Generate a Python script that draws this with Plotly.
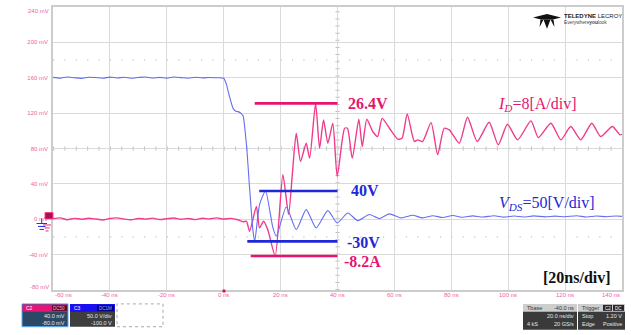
import plotly.graph_objects as go

# ---------------- data (time in ns, channel value in mV) ----------------
id_t = [-60, -57.5, -55, -52.5, -50, -47.5, -45, -42.5, -40, -37.5, -35, -32.5, -30, -27.5, -25,
        -22.5, -20, -17.5, -15, -12.5, -10, -7.5, -5, -2.5, 0, 2.5, 5, 6.8, 8.0,
        9.1, 11.5, 12.6, 14.0, 15.5, 18.1, 20.8, 22.8, 24.2, 25.5, 27.0, 29.0, 30.2, 32.3, 33.7,
        35.1, 36.6, 38.35, 39.9, 42.5, 43.5, 45.2, 47.5, 48.7, 50.3, 52.4, 54.1, 55.7, 58.25, 61.2,
        62.7, 64.5, 67.0, 68.2, 69.9, 72.9, 75.2, 77.5, 79.3, 82.8, 85.7, 89.1, 93.3, 96.5, 99.75,
        103.3, 108.0, 110.6, 115.0, 118.5, 122.0, 125.5, 129.4, 132.5, 136.6, 139.3, 140]
id_v = [0.5, 1.5, -0.5, 1.0, 0.0, 1.2, 0.3, -0.8, 0.8, 1.5, 0.2, -0.5, 0.9, 0.1, 1.3,
        -0.3, 0.6, 1.4, 0.0, 0.9, -0.4, 1.1, 0.4, 1.6, 0.2, 1.0, -0.6, -2.8, -2.3,
        -13.5, 14.6, -9.8, -2.3, -12, -41.5, 50.4, 5.6, 54.1, 97.2, 65.4, 86, 69.1, 131, 80.3,
        112.3, 86, 108.5, 48.5, 102.9, 102.9, 69.1, 113, 82.3, 113, 99.2, 93.5, 114.1, 102.9, 90.5,
        91.6, 119.1, 87.9, 89.8, 87.9, 109.3, 72.9, 102.9, 101.1, 86, 115.3, 87.9, 109.6, 84.2, 107.4,
        89.8, 111.2, 92.4, 108.5, 89.8, 104.8, 89.8, 108.5, 93.5, 104.8, 95.4, 96]

vds_t = [-60, -57.5, -55, -52.5, -50, -47.5, -45, -42.5, -40, -37.5, -35, -32.5, -30, -27.5, -25,
         -22.5, -20, -17.5, -15, -12.5, -10, -7.5, -5, -2.5, 0.0,
         0.9, 1.9, 3.3, 4.3, 5.0, 6.2, 6.8, 8.0, 9.1, 10.3, 10.9,
         12.6, 14.7, 17.3, 18.5, 22.0, 25.5, 29.0, 32.5, 36.6, 39.9, 43.6, 47.1, 51.2, 54.7, 58.2,
         62.4, 66.4, 69.9,
         73.5, 77, 80.5, 84, 87.5, 91, 95, 98.5, 102, 105.5, 109, 113, 116.5, 120, 124, 127.5,
         131, 134.5, 138, 140]
vds_v = [160.4, 159.6, 160.8, 160.0, 159.3, 160.6, 160.2, 159.5, 160.7, 159.8, 160.5, 159.4, 160.3,
         160.9, 159.7, 160.4, 159.6, 160.8, 160.1, 159.5, 160.6, 159.9, 160.3, 160.0, 159.5,
         153, 140.5, 125.4, 122.0, 121.7, 119.5, 117, 84.2, 35.3, -13.5, -25,
         16.6, 32, -9.8, -19.2, 13.9, -11.6, 10.9, -9.8, 9.8, -4.2, 7.1, -1.5, 5.3, 0.8, 6.1,
         1.5, 4.5, 1.5,
         4.0, 2.0, 4.2, 2.2, 3.8, 2.5, 4.0, 2.4, 3.6, 2.6, 3.8, 2.7, 3.5, 2.8, 3.9, 2.6,
         3.6, 2.9, 3.7, 3.3]

# measurement reference lines
ref_text = ["26.4V", "40V", "-30V", "-8.2A"]
ref_level = [131, 32, -25, -41.5]
ref_start = [10.9, 12.5, 8.3, 9.5]
ref_end = [40, 40, 40, 40]
ref_channel = ["id", "vds", "vds", "id"]

# axis ticks
x_ticks = [-60, -40, -20, 0, 20, 40, 60, 80, 100, 120, 140]
x_tick_text = ["-60 ns", "-40 ns", "-20 ns", "0 ns", "20 ns", "40 ns", "60 ns", "80 ns",
               "100 ns", "120 ns", "140 ns"]
y_ticks = [240, 200, 160, 120, 80, 40, 0, -40, -80]
y_tick_text = ["240 mV", "200 mV", "160 mV", "120 mV", "80 mV", "40 mV", "0 mV", "-40 mV", "-80 mV"]

# ---------------- styling / layout ----------------
W, H = 631, 335
ML, MR, MT, MB = 53, 9, 5, 45
PW, PH = W - ML - MR, H - MT - MB

PINK = "rgb(240,60,140)"
BLUE = "rgb(100,110,240)"
PINK_REF = "rgb(230,20,110)"
BLUE_REF = "rgb(30,40,215)"
TICK_PINK = "rgb(240,95,160)"
GRID = "#dadada"
SERIF = "Liberation Serif, Times New Roman, serif"
SANS = "Liberation Sans, Arial, sans-serif"


def px(x):
    return (x - ML) / PW


def py(y):
    return (H - MB - y) / PH


shapes = []
annotations = []


def rect(x0, y0, x1, y1, fill, line=None, lw=0, dash="solid"):
    shapes.append(dict(type="rect", xref="paper", yref="paper", x0=px(x0), x1=px(x1),
                       y0=py(y1), y1=py(y0), fillcolor=fill, layer="above",
                       line=dict(color=line or fill, width=lw, dash=dash)))


def ptext(x, y, text, size=6, color="#ffffff", anchor="left", family=SANS):
    annotations.append(dict(xref="paper", yref="paper", x=px(x), y=py(y), text=text,
                            showarrow=False, xanchor=anchor, yanchor="middle",
                            font=dict(size=size, color=color, family=family)))


fig = go.Figure()

# waveforms
fig.add_trace(go.Scatter(x=id_t, y=id_v, mode="lines",
                         line=dict(color=PINK, width=1.4, shape="spline", smoothing=0.6),
                         hoverinfo="skip"))
fig.add_trace(go.Scatter(x=vds_t, y=vds_v, mode="lines",
                         line=dict(color=BLUE, width=1.1, shape="spline", smoothing=0.6),
                         hoverinfo="skip"))

# reference lines + their labels
label_dx = [3, 6, 2, -1]
label_dy = [0, 0, -1, -6]
for i in range(len(ref_level)):
    col = PINK_REF if ref_channel[i] == "id" else BLUE_REF
    fig.add_trace(go.Scatter(x=[ref_start[i], ref_end[i]], y=[ref_level[i], ref_level[i]],
                             mode="lines", line=dict(color=col, width=2.6), hoverinfo="skip"))
    annotations.append(dict(x=ref_end[i], y=ref_level[i], xref="x", yref="y",
                            text="<b>%s</b>" % ref_text[i], showarrow=False,
                            xanchor="left", yanchor="middle", xshift=5 + label_dx[i],
                            yshift=label_dy[i],
                            font=dict(family=SERIF, size=16, color=col)))

# channel scale texts
ptext(496, 103, "<i>I</i><sub><i>D</i></sub>=8[A/div]", 16, PINK_REF, family=SERIF)
ptext(497, 203, "<i>V</i><sub><i>DS</i></sub>=50[V/div]", 16, BLUE_REF, family=SERIF)
ptext(613, 277, "<b>[20ns/div]</b>", 16, "#111111", anchor="right", family=SERIF)

# graticule decorations: center-line ticks and dotted rows
shapes.append(dict(type="line", xref="x", yref="y", x0=40, x1=40, y0=-80, y1=240,
                   layer="below", line=dict(color="#b8b8b8", width=4, dash="1px,6.12px")))
shapes.append(dict(type="line", xref="x", yref="y", x0=-60, x1=140, y0=80, y1=80,
                   layer="below", line=dict(color="#b8b8b8", width=4, dash="1px,10.38px")))
for lvl in (180, -20):
    shapes.append(dict(type="line", xref="x", yref="y", x0=-60, x1=140, y0=lvl, y1=lvl,
                       layer="below", line=dict(color="#c4c4c4", width=1.2, dash="1.2px,10.18px")))

# x tick labels (first left-aligned, last right-aligned inside the graticule)
for v, t in zip(x_ticks, x_tick_text):
    anchor = "left" if v == x_ticks[0] else ("right" if v == x_ticks[-1] else "center")
    annotations.append(dict(x=v, y=0, xref="x", yref="paper", yshift=-5, text=t,
                            showarrow=False, xanchor=anchor, yanchor="middle",
                            font=dict(size=6, color=TICK_PINK, family=SANS)))

# offset markers at the left
rect(36.5, 222.5, 47, 223.5, "rgb(40,40,230)")
rect(38, 225.5, 45.5, 226.5, "rgb(40,40,230)")
rect(39.5, 228.5, 44, 229.5, "rgb(40,40,230)")
rect(41.2, 218, 42.2, 223, "rgb(40,40,230)")
rect(43, 224, 51, 225, "rgb(240,40,130)")
rect(44.5, 227, 49.5, 228, "rgb(240,40,130)")
rect(45.5, 230, 48.5, 231, "rgb(240,40,130)")
rect(45, 212, 53, 218.5, "rgb(170,15,80)", "rgb(255,60,140)", 1)
# trigger marker
shapes.append(dict(type="circle", xref="paper", yref="paper", x0=px(222.3), x1=px(225.7),
                   y0=py(292.7), y1=py(289.3), fillcolor="rgb(220,20,100)", layer="above",
                   line=dict(width=0)))

# channel descriptor boxes (bottom left)
rect(22, 304, 68, 327, "rgb(44,72,100)", "rgb(90,170,255)", 1)
rect(22.5, 304.5, 67.5, 312, "rgb(230,20,120)")
rect(52, 305.5, 67, 311, "rgb(90,10,40)")
ptext(24, 308.3, "C2", 5)
ptext(66.5, 308.3, "DC50", 4.5, "#ffb0d0", anchor="right")
ptext(66.5, 316.5, "40.0 mV", 5.5, "#e8e8e8", anchor="right")
ptext(66.5, 323, "-80.0 mV", 5.5, "#e8e8e8", anchor="right")

rect(70, 304, 115, 327, "rgb(62,62,62)")
rect(70, 304, 115, 312, "rgb(25,15,240)")
rect(97, 305.5, 114, 311, "rgb(0,0,110)")
ptext(72, 308.3, "C3", 5)
ptext(113.5, 308.3, "DC1M", 4.5, "#b0b0ff", anchor="right")
ptext(113.5, 316.5, "50.0 V/div", 5.5, "#e8e8e8", anchor="right")
ptext(113.5, 323, "-100.0 V", 5.5, "#e8e8e8", anchor="right")

rect(117, 304, 163, 327, "rgba(255,255,255,0)", "#a8a8a8", 1, "dot")

# timebase / trigger boxes (bottom right)
rect(523, 304, 577, 330, "rgb(58,58,58)")
rect(523, 304, 577, 312, "rgb(205,205,205)")
ptext(525, 308.2, "Tbase", 5.5, "#333333")
ptext(575.5, 308.2, "-40.0 ns", 5.5, "#333333", anchor="right")
ptext(575.5, 316.5, "20.0 ns/div", 5.5, "#e8e8e8", anchor="right")
ptext(525, 324.5, "4 kS", 5.5, "#e8e8e8")
ptext(575.5, 324.5, "20 GS/s", 5.5, "#e8e8e8", anchor="right")

rect(578, 304, 625, 330, "rgb(58,58,58)")
rect(578, 304, 625, 312, "rgb(205,205,205)")
rect(603, 305, 612, 311, "rgb(40,40,40)")
rect(613, 305, 624, 311, "rgb(40,40,40)")
ptext(580, 308.2, "Trigger", 5.5, "#333333")
ptext(607.5, 308.2, "C2", 4.5, "#ffffff", anchor="center")
ptext(618.5, 308.2, "DC", 4.5, "#ffffff", anchor="center")
ptext(580, 316.5, "Stop", 5.5, "#e8e8e8")
ptext(623.5, 316.5, "1.20 V", 5.5, "#e8e8e8", anchor="right")
ptext(580, 324.5, "Edge", 5.5, "#e8e8e8")
ptext(623.5, 324.5, "Positive", 5.5, "#e8e8e8", anchor="right")


# Teledyne LeCroy logo
def ppath(points):
    d = "M " + " L ".join("%.5f,%.5f" % (px(a), py(b)) for a, b in points) + " Z"
    shapes.append(dict(type="path", xref="paper", yref="paper", path=d,
                       fillcolor="#111111", line=dict(width=0), layer="above"))


ppath([(533, 15.5), (547, 12), (561, 15.5), (553, 17.5), (541, 17.5)])
ppath([(543.5, 17.5), (550.5, 17.5), (547, 27)])
ppath([(540.5, 17.5), (543.5, 17.5), (539.5, 25.5)])
ppath([(550.5, 17.5), (553.5, 17.5), (554.5, 25.5)])
ptext(562, 14.5, "<b>TELEDYNE</b> LECROY", 6, "#222222")
ptext(562, 20.8, "Everywhere<b>you</b>look", 4.8, "#444444")

# y tick labels: first/last as annotations kept inside the graticule height
for v, t in zip(y_ticks, y_tick_text):
    if v == y_ticks[0]:
        annotations.append(dict(x=0, y=v, xref="paper", yref="y", xshift=-2, yshift=-4,
                                text=t, showarrow=False, xanchor="right", yanchor="middle",
                                font=dict(size=6, color=TICK_PINK, family=SANS)))
    elif v == y_ticks[-1]:
        annotations.append(dict(x=0, y=v, xref="paper", yref="y", xshift=-2, yshift=3,
                                text=t, showarrow=False, xanchor="right", yanchor="middle",
                                font=dict(size=6, color=TICK_PINK, family=SANS)))

fig.update_layout(
    width=W, height=H,
    margin=dict(l=ML, r=MR, t=MT, b=MB),
    paper_bgcolor="white", plot_bgcolor="white",
    showlegend=False,
    shapes=shapes, annotations=annotations,
    xaxis=dict(range=[-60, 140], tickvals=x_ticks, showticklabels=False, ticks="",
               showgrid=True, gridcolor=GRID, gridwidth=1, zeroline=False,
               showline=True, linecolor="#cccccc", linewidth=1.5, mirror=True, fixedrange=True),
    yaxis=dict(range=[-80, 240], tickvals=y_ticks[1:-1], ticktext=y_tick_text[1:-1],
               ticks="", ticklabelstandoff=2,
               tickfont=dict(size=6, color=TICK_PINK, family=SANS),
               showgrid=True, gridcolor=GRID, gridwidth=1, zeroline=False,
               showline=True, linecolor="#cccccc", linewidth=1.5, mirror=True, fixedrange=True),
)

fig.write_html("out.html", config={"displayModeBar": False})
